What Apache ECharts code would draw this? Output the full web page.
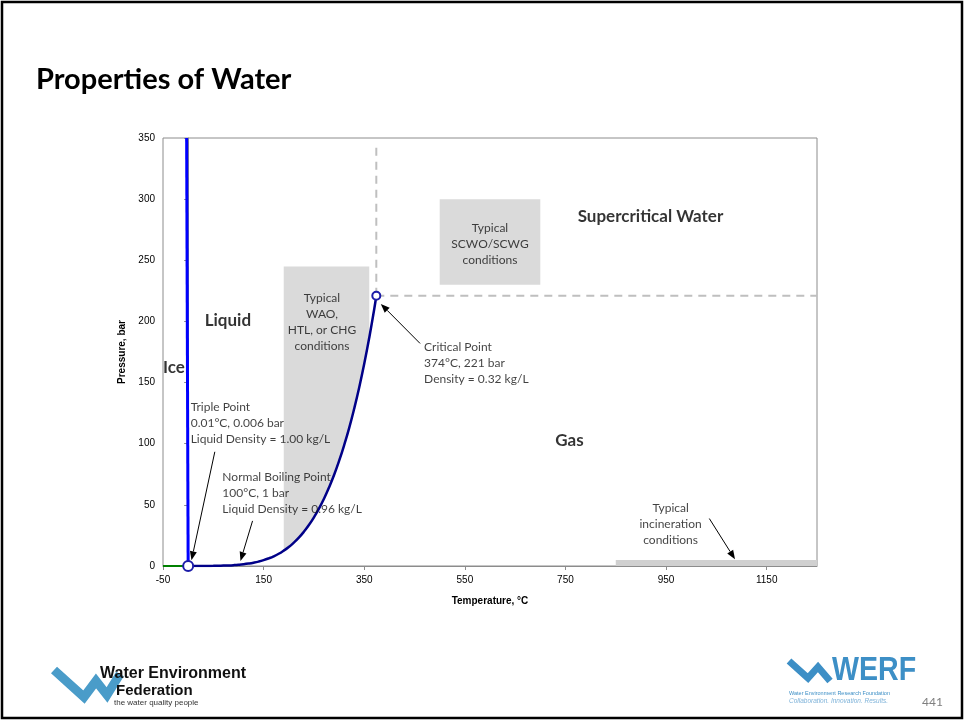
<!DOCTYPE html>
<html>
<head>
<meta charset="utf-8">
<script src="https://cdn.jsdelivr.net/npm/echarts@6/dist/echarts.min.js"></script>
<style>
  html, body { margin: 0; padding: 0; background: #fff; }
  #chart { width: 965px; height: 721px; }
</style>
</head>
<body>
<div id="chart"></div>
<script>
// phase diagram data (temperature °C, pressure bar)
var vaporCurve = [
    [0.01, 0.006], [10, 0.012], [20, 0.023], [30, 0.042], [40, 0.074], [50, 0.12],
    [60, 0.2], [70, 0.31], [80, 0.47], [90, 0.7], [100, 1.01], [110, 1.43],
    [120, 1.99], [130, 2.7], [140, 3.6], [150, 4.76], [160, 6.2], [170, 7.9],
    [180, 10.0], [190, 12.6], [200, 15.5], [210, 19.1], [220, 23.2], [230, 28.0],
    [240, 33.5], [250, 39.8], [260, 46.9], [270, 55.0], [280, 64.2], [290, 74.4],
    [300, 85.9], [310, 98.7], [320, 112.8], [330, 128.6], [340, 146.0], [350, 165.3],
    [360, 186.7], [370, 210.4], [374, 221]
];
var meltCurve = [[0.01, 0.006], [-3, 350]];
var sublimationCurve = [[-50, 0], [0.01, 0.006]];
var triplePoint = [0.01, 0.006];
var criticalPoint = [374, 221];
var criticalGuideV = [[374, 221], [374, 346]];
var criticalGuideH = [[374, 221], [1250, 221]];

// typical operating regions
var waoRange = [190, 360];
var waoTop = 245;
var scwoBox = [500, 230, 700, 300];
var incinerationBox = [850, 0, 1250, 5];

// axis ticks
var xTicks = { min: -50, max: 1250, step: 200 };
var yTicks = { min: 0, max: 350, step: 50 };

// annotation text
var notes = [
    { text: 'Typical\nWAO,\nHTL, or CHG\nconditions', at: [266, 226], align: 'center' },
    { text: 'Typical\nSCWO/SCWG\nconditions', at: [600, 283], align: 'center' },
    { text: 'Triple Point\n0.01°C, 0.006 bar\nLiquid Density = 1.00 kg/L', at: [5, 136.5], align: 'left' },
    { text: 'Normal Boiling Point\n100°C, 1 bar\nLiquid Density = 0.96 kg/L', at: [68, 79.4], align: 'left' },
    { text: 'Critical Point\n374°C, 221 bar\nDensity = 0.32 kg/L', at: [469, 185.4], align: 'left' },
    { text: 'Typical\nincineration\nconditions', at: [959, 53.6], align: 'center' }
];
var regionNames = [
    { text: 'Ice', at: [-50, 162.7], align: 'left' },
    { text: 'Liquid', at: [79, 201], align: 'center' },
    { text: 'Supercritical Water', at: [919, 285.7], align: 'center' },
    { text: 'Gas', at: [758, 103], align: 'center' }
];
// arrows: from [T, P] to [T, P]
var arrows = [
    [53, 93.4, 6.6, 4.7],
    [128, 36.9, 104, 4.1],
    [461, 182, 383, 214.3],
    [1036, 38.8, 1087, 5.5]
];

var noteFont = 'Lato, "Open Sans", sans-serif';
var axisFont = '"Liberation Sans", Arial, sans-serif';

function rectItem(params, api) {
    var p0 = api.coord([api.value(0), api.value(3)]);
    var p1 = api.coord([api.value(2), api.value(1)]);
    return {
        type: 'rect',
        shape: { x: p0[0], y: p0[1], width: p1[0] - p0[0], height: p1[1] - p0[1] },
        style: { fill: api.visual('color') }
    };
}

function arrowItem(params, api) {
    var p0 = api.coord([api.value(0), api.value(1)]);
    var p1 = api.coord([api.value(2), api.value(3)]);
    var dx = p1[0] - p0[0], dy = p1[1] - p0[1];
    var len = Math.sqrt(dx * dx + dy * dy);
    var ux = dx / len, uy = dy / len;
    var head = 9, half = 3.5;
    var bx = p1[0] - ux * head, by = p1[1] - uy * head;
    return {
        type: 'group',
        children: [
            {
                type: 'line',
                shape: { x1: p0[0], y1: p0[1], x2: bx, y2: by },
                style: { stroke: '#000', lineWidth: 1 }
            },
            {
                type: 'polygon',
                shape: { points: [p1, [bx - uy * half, by + ux * half], [bx + uy * half, by - ux * half]] },
                style: { fill: '#000' }
            }
        ]
    };
}

var waoCurve = vaporCurve.filter(function (d) { return d[0] >= waoRange[0] && d[0] <= waoRange[1]; });

var chart = echarts.init(document.getElementById('chart'));
var option = {
    animation: false,
    grid: {
        left: 163, right: 148, top: 138, bottom: 155,
        show: true, borderColor: '#8c8c8c', borderWidth: 1
    },
    xAxis: {
        type: 'value',
        min: xTicks.min, max: xTicks.max, interval: xTicks.step,
        name: 'Temperature, °C',
        nameLocation: 'middle', nameGap: 30,
        nameTextStyle: { fontFamily: axisFont, fontSize: 10, fontWeight: 'bold', color: '#000' },
        axisLine: { onZero: false, lineStyle: { color: '#8c8c8c' } },
        axisTick: { length: 4, lineStyle: { color: '#8c8c8c' } },
        axisLabel: {
            fontFamily: axisFont, fontSize: 10, color: '#000', showMaxLabel: false, margin: 9,
            formatter: function (v) { return String(v); }
        },
        splitLine: { show: false }
    },
    yAxis: {
        type: 'value',
        min: yTicks.min, max: yTicks.max, interval: yTicks.step,
        name: 'Pressure, bar',
        nameLocation: 'middle', nameGap: 28, nameRotate: 90,
        nameTextStyle: { fontFamily: axisFont, fontSize: 10, fontWeight: 'bold', color: '#000' },
        axisLine: { show: true, lineStyle: { color: '#8c8c8c' } },
        axisTick: { show: true, length: 4, lineStyle: { color: '#8c8c8c' } },
        axisLabel: { fontFamily: axisFont, fontSize: 10, color: '#000', margin: 8 },
        splitLine: { show: false }
    },
    series: [
        {
            // WAO / HTL / CHG region: from the vapor curve up to waoTop
            type: 'custom',
            z: 1,
            silent: true,
            data: [0],
            itemStyle: { color: '#dadada' },
            renderItem: function (params, api) {
                var pts = waoCurve.map(function (d) { return api.coord(d); });
                pts.push(api.coord([waoRange[1], waoTop]));
                pts.push(api.coord([waoRange[0], waoTop]));
                return { type: 'polygon', shape: { points: pts }, style: { fill: api.visual('color') } };
            }
        },
        {
            type: 'custom',
            z: 1,
            silent: true,
            itemStyle: { color: '#dadada' },
            encode: { x: [0, 2], y: [1, 3] },
            data: [scwoBox],
            renderItem: rectItem
        },
        {
            type: 'custom',
            z: 1,
            silent: true,
            itemStyle: { color: '#d0d0d0' },
            encode: { x: [0, 2], y: [1, 3] },
            data: [incinerationBox],
            renderItem: rectItem
        },
        {
            type: 'line', data: criticalGuideV, symbol: 'none', z: 2,
            lineStyle: { color: '#bfbfbf', width: 2, type: [8, 6] }
        },
        {
            type: 'line', data: criticalGuideH, symbol: 'none', z: 2,
            lineStyle: { color: '#bfbfbf', width: 2, type: [8, 6] }
        },
        {
            type: 'line', data: sublimationCurve, symbol: 'none', z: 3,
            lineStyle: { color: '#008000', width: 2 }
        },
        {
            type: 'line', data: meltCurve, symbol: 'none', z: 3,
            lineStyle: { color: '#0000ff', width: 3 }
        },
        {
            type: 'line', data: vaporCurve, symbol: 'none', smooth: true, z: 3,
            lineStyle: { color: '#000088', width: 2.5 }
        },
        {
            type: 'scatter', z: 4,
            data: [
                { value: triplePoint, symbolSize: 10 },
                { value: criticalPoint, symbolSize: 8 }
            ],
            itemStyle: { color: '#fff', borderColor: '#1c1ca8', borderWidth: 2, opacity: 1 }
        },
        {
            type: 'custom', z: 5, silent: true,
            encode: { x: [0, 2], y: [1, 3] },
            data: arrows,
            renderItem: arrowItem
        },
        {
            // text notes and region names
            type: 'scatter', z: 5, symbolSize: 0, silent: true,
            data: notes.map(function (n) {
                return {
                    value: n.at,
                    label: {
                        show: true, formatter: n.text, position: [0, 0],
                        align: n.align, verticalAlign: 'top',
                        fontFamily: noteFont, fontSize: 12, lineHeight: 16, color: '#111'
                    }
                };
            }).concat(regionNames.map(function (n) {
                return {
                    value: n.at,
                    label: {
                        show: true, formatter: n.text, position: [0, 0],
                        align: n.align, verticalAlign: 'middle',
                        fontFamily: noteFont, fontSize: 17, fontWeight: 'bold', color: '#000'
                    }
                };
            }))
        }
    ],
    graphic: [
        {
            type: 'rect', silent: true,
            shape: { x: 2, y: 2, width: 960, height: 716 },
            style: { fill: 'none', stroke: '#000', lineWidth: 2.5 }
        },
        {
            type: 'text', left: 36, top: 65,
            style: { text: 'Properties of Water', font: 'bold 29px Lato, "Open Sans", sans-serif', fill: '#000' }
        },
        // WEF logo
        {
            type: 'polyline', silent: true,
            shape: { points: [[54, 670], [84, 697], [96, 681], [107, 695], [120, 674]] },
            style: { stroke: '#4a9cc9', lineWidth: 9, lineJoin: 'miter', fill: 'none' }
        },
        {
            type: 'text', left: 100, top: 666,
            style: { text: 'Water Environment', font: 'bold 16px "Liberation Sans", Arial, sans-serif', fill: '#111' }
        },
        {
            type: 'text', left: 116, top: 683,
            style: { text: 'Federation', font: 'bold 15px "Liberation Sans", Arial, sans-serif', fill: '#111' }
        },
        {
            type: 'text', left: 114, top: 699,
            style: { text: 'the water quality people', font: '8px "Liberation Sans", Arial, sans-serif', fill: '#333' }
        },
        // WERF logo
        {
            type: 'polyline', silent: true,
            shape: { points: [[789, 661], [808, 678], [818, 667], [830, 681]] },
            style: { stroke: '#3d8fc6', lineWidth: 7, lineJoin: 'miter', fill: 'none' }
        },
        {
            type: 'text', x: 832, y: 654, scaleX: 0.84,
            style: { text: 'WERF', font: 'bold 34px "Liberation Sans", Arial, sans-serif', fill: '#3d8fc6' }
        },
        {
            type: 'text', left: 789, top: 690,
            style: { text: 'Water Environment Research Foundation', font: '5.5px "Liberation Sans", Arial, sans-serif', fill: '#3d8fc6' }
        },
        {
            type: 'text', left: 789, top: 698,
            style: { text: 'Collaboration. Innovation. Results.', font: 'italic 6.5px "Liberation Sans", Arial, sans-serif', fill: '#7fb3d9' }
        },
        {
            type: 'text', left: 922, top: 696,
            style: { text: '441', font: '12px Lato, sans-serif', fill: '#7f7f7f' }
        }
    ]
};
chart.setOption(option);
</script>
</body>
</html>
